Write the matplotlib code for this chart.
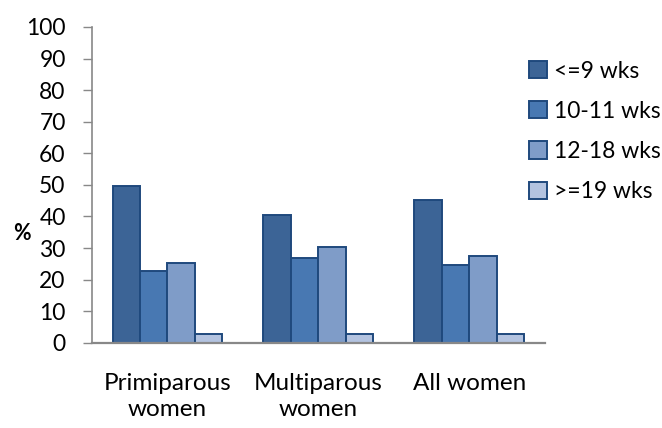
import numpy as np
import matplotlib.pyplot as plt
from matplotlib.patches import Patch

#Data section ---------------------------------------------
groups = ['Primiparous\nwomen', 'Multiparous\nwomen', 'All women']
series = ['<=9 wks', '10-11 wks', '12-18 wks', '>=19 wks']
wks_9 = [49.5, 40.6, 45.3]
wks_10_11 = [22.8, 26.7, 24.7]
wks_12_18 = [25.2, 30.2, 27.5]
wks_19 = [2.9, 2.7, 2.8]
yticks = [0, 10, 20, 30, 40, 50, 60, 70, 80, 90, 100]

colors = ['#3C6496', '#4878B2', '#7F9CC8', '#B3C3E0']
edge = '#1F497D'

plt.rcParams['font.family'] = ['Lato', 'DejaVu Sans']
fs = 16.5

fig = plt.figure(figsize=(6.62, 4.28), dpi=100)
ax1 = fig.add_axes([0.139, 0.199, 0.684, 0.738])

x = np.arange(len(groups))
bw = 0.182
data = [wks_9, wks_10_11, wks_12_18, wks_19]
for i, vals in enumerate(data):
    ax1.bar(x + (i - 1.5) * bw, vals, width=bw, color=colors[i],
            edgecolor=edge, linewidth=1.4, label=series[i], zorder=2)

ax1.set_xlim(-0.5, 2.5)
ax1.set_ylim(0, 100)
ax1.set_yticks(yticks)
ax1.set_xticks(x)
ax1.set_xticklabels(groups, fontsize=17.5, linespacing=1.3)
ax1.tick_params(axis='x', length=0, pad=22)
ax1.tick_params(axis='y', length=6.5, width=1, color='#888888', labelsize=fs, pad=12.5)
for s in ['top', 'right']:
    ax1.spines[s].set_visible(False)
ax1.spines['left'].set_color('#888888')
ax1.spines['bottom'].set_color('#888888')
ax1.spines['left'].set_linewidth(1.2)
ax1.spines['bottom'].set_linewidth(1.6)

fig.text(0.033, 0.455, '%', fontsize=fs - 1, fontweight='bold', ha='center', va='center')

handles = [Patch(facecolor=colors[i], edgecolor=edge, linewidth=1.4) for i in range(4)]
fig.legend(handles, series, loc='upper left', bbox_to_anchor=(0.786, 0.88),
           frameon=False, fontsize=fs, handlelength=0.78, handleheight=0.78,
           handletextpad=0.3, labelspacing=0.84, borderaxespad=0)

plt.savefig('out.png', dpi=100)
